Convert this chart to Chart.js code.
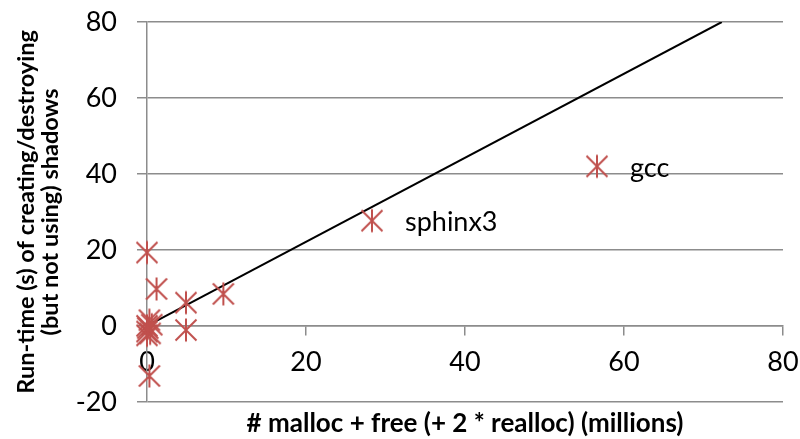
<!DOCTYPE html>
<html>
<head>
<meta charset="utf-8">
<script src="https://cdn.jsdelivr.net/npm/chart.js@4.4.0/dist/chart.umd.min.js"></script>
<style>
  html, body { margin: 0; padding: 0; background: #fff; }
  #wrap { width: 800px; height: 439px; }
</style>
</head>
<body>
<div id="wrap"><canvas id="chart"></canvas></div>
<script>
// benchmarks: call counts (millions) vs shadow create/destroy time (s)
const callsM = [56.6, 28.3, 9.6, 4.9, 4.9, 1.2, 0, 0.3, 0, 0, 0.3, 0.6, 0, 0.4, 0.1];
const runtimeS = [42.0, 27.7, 8.4, 6.1, -1.1, 9.7, 19.3, -13.2, 0, -1.5, 1.5, 0.3, -2.5, -2.0, -0.6];
const pointNames = ['gcc', 'sphinx3', '', '', '', '', '', '', '', '', '', '', '', '', ''];

// linear fit through the origin
const fitX = [0, 72.3];
const fitY = [0, 80];

const xTicks = [0, 20, 40, 60, 80];
const yTicks = [-20, 0, 20, 40, 60, 80];

const RED = '#C0504D';
const GRID = '#8c8c8c';
const FONT = 'Lato, "DejaVu Sans", sans-serif';

// asterisk marker: vertical bar plus an X
function makeStar(size, color) {
  const c = document.createElement('canvas');
  c.width = size; c.height = size;
  const g = c.getContext('2d');
  g.strokeStyle = color;
  g.lineWidth = 2;
  const m = 1.5, s = size - 1.5, h = size / 2;
  g.beginPath();
  g.moveTo(h, m); g.lineTo(h, s);
  g.moveTo(m + 1, m + 1); g.lineTo(s - 1, s - 1);
  g.moveTo(s - 1, m + 1); g.lineTo(m + 1, s - 1);
  g.stroke();
  return c;
}
const star = makeStar(26, RED);

const pointLabels = {
  id: 'pointLabels',
  afterDatasetsDraw(chart) {
    const { ctx, scales } = chart;
    ctx.save();
    ctx.font = '27px ' + FONT;
    ctx.fillStyle = '#000';
    ctx.textBaseline = 'middle';
    pointNames.forEach((name, i) => {
      if (!name) return;
      const px = scales.x.getPixelForValue(callsM[i]);
      const py = scales.y.getPixelForValue(runtimeS[i]);
      ctx.fillText(name, px + 33, py + 2);
    });
    ctx.restore();
  }
};

new Chart(document.getElementById('chart'), {
  type: 'scatter',
  data: {
    datasets: [
      {
        label: 'benchmarks',
        data: callsM.map((x, i) => ({ x, y: runtimeS[i] })),
        pointStyle: star,
        pointRadius: 13,
        pointHoverRadius: 13,
        clip: false
      },
      {
        label: 'fit',
        type: 'line',
        data: fitX.map((x, i) => ({ x, y: fitY[i] })),
        borderColor: '#000',
        borderWidth: 2,
        pointRadius: 0,
        fill: false
      }
    ]
  },
  options: {
    responsive: true,
    maintainAspectRatio: false,
    animation: false,
    layout: { padding: { top: 0, right: 0, left: 14, bottom: 0 } },
    plugins: {
      legend: { display: false },
      tooltip: { enabled: false },
      title: {
        display: true,
        position: 'bottom',
        fullSize: false,
        text: '# malloc + free (+ 2 * realloc) (millions)',
        color: '#000',
        font: { family: FONT, size: 26, weight: 'bold' },
        padding: { top: 6, bottom: 0 }
      }
    },
    scales: {
      x: {
        type: 'linear',
        position: { y: 0 },
        min: 0,
        max: 80,
        afterBuildTicks: s => { s.ticks = xTicks.map(v => ({ value: v })); },
        // the axis sits inside the plot, so it takes no layout room
        afterFit: s => { s.height = 0; s.paddingRight = 17; s.paddingLeft = 0; },
        ticks: { color: '#000', font: { family: FONT, size: 27 }, padding: 11 },
        grid: { drawOnChartArea: false, drawTicks: true, tickLength: 9, color: GRID, lineWidth: 1.5 },
        border: { display: true, color: GRID, width: 1.5 }
      },
      y: {
        type: 'linear',
        min: -20,
        max: 80,
        afterBuildTicks: s => { s.ticks = yTicks.map(v => ({ value: v })); },
        afterFit: s => { s.width = 133; s.paddingTop = 22; },
        ticks: { color: '#000', font: { family: FONT, size: 27 }, padding: 20 },
        grid: { color: GRID, lineWidth: 1.5, tickLength: 10 },
        border: { display: true, color: GRID, width: 1.5 },
        title: {
          display: true,
          text: ['Run-time (s) of creating/destroying', '(but not using) shadows'],
          color: '#000',
          font: { family: FONT, size: 23.5, weight: 'bold', lineHeight: 1.02 },
          padding: { top: 0, bottom: 0 }
        }
      }
    }
  },
  plugins: [pointLabels]
});
</script>
</body>
</html>
